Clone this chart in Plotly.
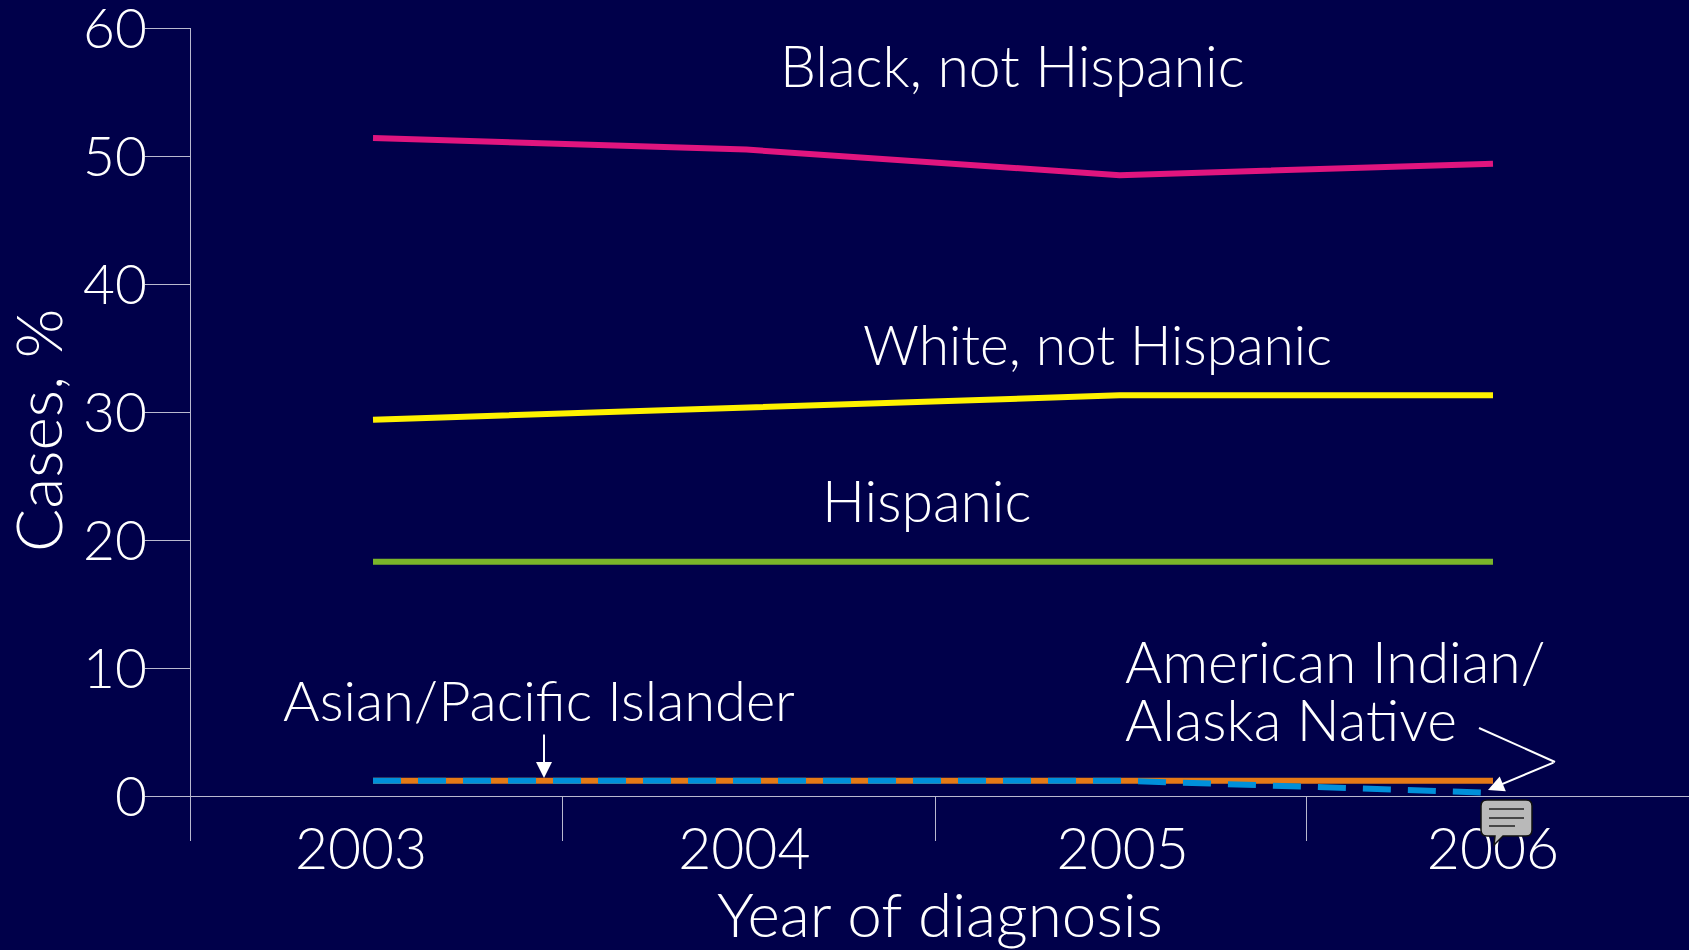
import plotly.graph_objects as go

years = [2003, 2004, 2005, 2006]
year_labels = ["2003", "2004", "2005", "2006"]
black = [51.4, 50.5, 48.5, 49.4]
white = [29.4, 30.3, 31.3, 31.3]
hispanic = [18.3, 18.3, 18.3, 18.3]
asian = [1.2, 1.2, 1.2, 1.2]
native = [1.2, 1.2, 1.2, 0.25]
y_ticks = [0, 10, 20, 30, 40, 50, 60]

BG = "#00004A"
AX = "#B9B9CF"
FONT = "Lato"
W, H = 1689, 950
L, R, T, B = 191, 1689, 28, 796
FS = 57
PX_PER_YEAR = 373.3


def px(x):
    return (x - L) / (R - L)


def py(y):
    return (B - y) / (B - T)


fig = go.Figure()
for vals, col, dash, w in [
    (black, "#E0157F", "solid", 6),
    (white, "#FFF200", "solid", 6),
    (hispanic, "#7AB52A", "solid", 6),
    (asian, "#E57A17", "solid", 6),
    (native, "#0090DA", "28px,17px", 6),
]:
    fig.add_trace(go.Scatter(x=years, y=vals, mode="lines", showlegend=False,
                             line=dict(color=col, width=w, dash=dash, shape="linear")))

font = dict(family=FONT, size=FS, color="white", weight=300)


def label(text, x, y, anchor="center", size=FS, angle=0):
    fig.add_annotation(text=text, xref="paper", yref="paper", x=px(x), y=py(y),
                       xanchor=anchor, yanchor="middle", showarrow=False,
                       textangle=angle, font=dict(font, size=size))


label("Black, not Hispanic", 1012, 65)
label("White, not Hispanic", 1097, 344, size=55)
label("Hispanic", 926, 500)
label("Asian/Pacific Islander", 539, 699, size=56)
label("American Indian/", 1123, 661, "left")
label("Alaska Native", 1123, 719, "left")
label("Cases, %", 38, 431, size=64, angle=-90)

ARROW = dict(color="white", width=2)
fig.add_annotation(xref="paper", yref="paper", axref="pixel", ayref="pixel",
                   x=px(544), y=py(778), ax=0, ay=-45, text="", showarrow=True,
                   arrowhead=2, arrowsize=1.6, arrowwidth=2, arrowcolor="white")
fig.add_annotation(xref="paper", yref="paper", axref="pixel", ayref="pixel",
                   x=px(1488), y=py(790), ax=67, ay=-28, text="", showarrow=True,
                   arrowhead=2, arrowsize=1.6, arrowwidth=2, arrowcolor="white")
fig.add_shape(type="line", xref="paper", yref="paper", x0=px(1479), y0=py(728),
              x1=px(1555), y1=py(762), line=ARROW)

# speech-bubble note icon
x0, x1, y0, y1, r = 1481, 1532, 800, 836, 6
bubble = (f"M {px(x0 + r)} {py(y0)} L {px(x1 - r)} {py(y0)} Q {px(x1)} {py(y0)} {px(x1)} {py(y0 + r)} "
          f"L {px(x1)} {py(y1 - r)} Q {px(x1)} {py(y1)} {px(x1 - r)} {py(y1)} "
          f"L {px(1503)} {py(y1)} L {px(1494)} {py(845)} L {px(1495)} {py(y1)} "
          f"L {px(x0 + r)} {py(y1)} Q {px(x0)} {py(y1)} {px(x0)} {py(y1 - r)} "
          f"L {px(x0)} {py(y0 + r)} Q {px(x0)} {py(y0)} {px(x0 + r)} {py(y0)} Z")
fig.add_shape(type="path", xref="paper", yref="paper", path=bubble,
              fillcolor="#B9B9B9", line=dict(color="#111111", width=1.5))
for ly, xe in [(809, 1524), (818, 1524), (826, 1515)]:
    fig.add_shape(type="line", xref="paper", yref="paper", x0=px(1489), y0=py(ly),
                  x1=px(xe), y1=py(ly), line=dict(color="#222222", width=1.5))

label_offsets_px = [-12, -2, 3, 0]
label_anchors = [yr + off / PX_PER_YEAR for yr, off in zip(years, label_offsets_px)]

fig.update_layout(
    width=W, height=H, autosize=False,
    paper_bgcolor=BG, plot_bgcolor=BG,
    margin=dict(l=L, r=W - R, t=T, b=H - B, pad=0),
    font=font,
    xaxis=dict(
        range=[2003 - (373 - L) / PX_PER_YEAR, 2006 + (R - 1493) / PX_PER_YEAR],
        tickvals=label_anchors, ticktext=year_labels, ticks="", ticklen=0,
        showgrid=False, zeroline=False, showline=True, linecolor=AX, linewidth=1.3,
        tickfont=font, ticklabelstandoff=3, ticklabeloverflow="allow",
        minor=dict(tickvals=[2002.5124, 2003.507, 2004.507, 2005.5], ticks="outside",
                   ticklen=44, tickwidth=1.3, tickcolor=AX, showgrid=False),
        title=dict(text="Year of diagnosis", font=dict(font, size=62), standoff=13),
        automargin=False,
    ),
    yaxis=dict(
        range=[0, 60], tickvals=y_ticks, ticks="outside", ticklen=45, tickwidth=1.3,
        tickcolor=AX, showgrid=False, zeroline=False, showline=True, linecolor=AX,
        linewidth=1.3, tickfont=dict(font, size=55), ticklabelstandoff=-13, ticklabelshift=1,
        ticklabeloverflow="allow", automargin=False,
    ),
)

fig.write_html("out.html", config=dict(displayModeBar=False),
               post_script="document.body.style.margin='0';document.body.style.overflow='hidden';document.body.style.background='" + BG + "';")
